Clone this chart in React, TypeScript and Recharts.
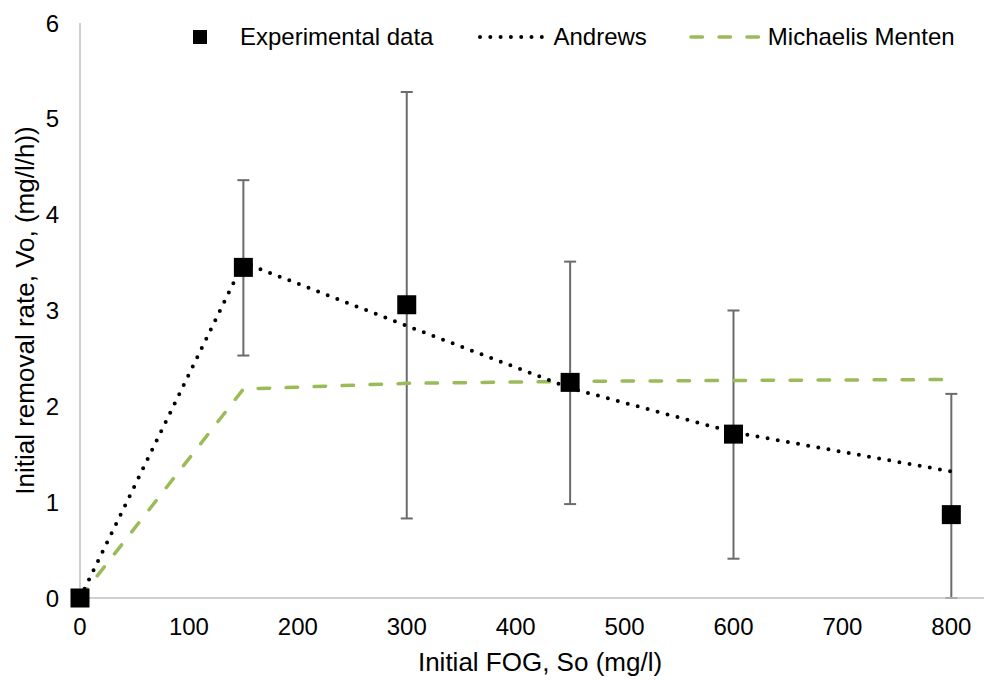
import React from 'react';
import { ComposedChart, Line, Scatter, XAxis, YAxis, ErrorBar } from 'recharts';

// Initial FOG concentration, So (mg/l)
const concentrations = [0, 150, 300, 450, 600, 800];
// Measured initial removal rate, Vo (mg/l/h)
const measuredRate = [0, 3.45, 3.06, 2.25, 1.71, 0.87];
// Error bar extents below / above each measured value
const errorBelow = [0, 0.92, 2.23, 1.27, 1.3, 0.87];
const errorAbove = [0, 0.91, 2.22, 1.26, 1.29, 1.26];
// Fitted kinetic models
const andrewsFit = [0, 3.5, 2.84, 2.19, 1.73, 1.32];
const michaelisMentenFit = [0, 2.18, 2.24, 2.26, 2.27, 2.28];

const xTicks = [0, 100, 200, 300, 400, 500, 600, 700, 800];
const yTicks = [0, 1, 2, 3, 4, 5, 6];

const rows = concentrations.map((x, i) => ({
  x,
  measured: measuredRate[i],
  err: [errorBelow[i], errorAbove[i]],
  andrews: andrewsFit[i],
  mm: michaelisMentenFit[i],
}));

const FONT = '"Liberation Sans", Arial, sans-serif';
const GREEN = '#9bbb59';
const AXIS = '#bfbfbf';

const SquareMarker = (props: any) => {
  const { cx, cy } = props;
  if (cx == null || cy == null) return <g />;
  return <rect x={cx - 9.5} y={cy - 9.5} width={19} height={19} fill="#000" />;
};

const NoMarker = () => <g />;

const XTitle = (props: any) => {
  const vb = props.viewBox;
  return (
    <text
      x={vb.x + vb.width / 2 + 8}
      y={vb.y + 64}
      textAnchor="middle"
      dominantBaseline="central"
      fontSize={26}
      fontFamily={FONT}
      fill="#000"
    >
      Initial FOG, So (mg/l)
    </text>
  );
};

const YTitle = (props: any) => {
  const vb = props.viewBox;
  const cx = vb.x + 25;
  const cy = vb.y + vb.height / 2;
  return (
    <text
      x={cx}
      y={cy}
      transform={`rotate(-90, ${cx}, ${cy})`}
      textAnchor="middle"
      dominantBaseline="central"
      fontSize={26}
      fontFamily={FONT}
      fill="#000"
    >
      Initial removal rate,  Vo, (mg/l/h))
    </text>
  );
};

const legendText: React.CSSProperties = {
  fontSize: 24,
  fontFamily: FONT,
  color: '#000',
  whiteSpace: 'pre',
  lineHeight: '28px',
};

const ChartLegend = () => (
  <div
    style={{
      position: 'absolute',
      left: 193,
      top: 23,
      display: 'flex',
      alignItems: 'center',
      height: 28,
    }}
  >
    <svg width={14} height={14} style={{ display: 'block' }}>
      <rect x={0} y={0} width={14} height={14} fill="#000" />
    </svg>
    <span style={{ ...legendText, marginLeft: 33 }}>Experimental data</span>
    <svg width={72} height={10} style={{ display: 'block', marginLeft: 45 }}>
      <line x1={2} y1={5} x2={70} y2={5} stroke="#000" strokeWidth={4} strokeDasharray="0 10.3" strokeLinecap="round" />
    </svg>
    <span style={{ ...legendText, marginLeft: 3 }}>Andrews</span>
    <svg width={76} height={10} style={{ display: 'block', marginLeft: 42 }}>
      <line x1={2} y1={5} x2={74} y2={5} stroke={GREEN} strokeWidth={3.5} strokeDasharray="11.5 16.5" strokeLinecap="round" />
    </svg>
    <span style={{ ...legendText, marginLeft: 3 }}>Michaelis Menten</span>
  </div>
);

export default function App() {
  return (
    <div style={{ position: 'relative', width: 984, height: 680, background: '#fff' }}>
      <style>{`body{margin:0;}`}</style>
      <ComposedChart
        width={984}
        height={680}
        data={rows}
        margin={{ top: 23, right: 0, bottom: 0, left: 0 }}
      >
        <XAxis
          dataKey="x"
          type="number"
          domain={[0, 830]}
          ticks={xTicks}
          interval={0}
          height={82}
          tickLine={false}
          tickSize={0}
          tickMargin={20}
          axisLine={{ stroke: AXIS, strokeWidth: 1.5 }}
          tick={{ fontSize: 24, fill: '#000', fontFamily: FONT }}
          label={<XTitle />}
        />
        <YAxis
          type="number"
          domain={[0, 6]}
          ticks={yTicks}
          interval={0}
          width={80}
          tickLine={false}
          tickSize={0}
          tickMargin={21}
          axisLine={{ stroke: AXIS, strokeWidth: 1.5 }}
          tick={{ fontSize: 24, fill: '#000', fontFamily: FONT }}
          label={<YTitle />}
        />
        <Scatter dataKey="measured" shape={<NoMarker />} isAnimationActive={false}>
          <ErrorBar dataKey="err" direction="y" width={6} stroke="#6b6b6b" strokeWidth={2} />
        </Scatter>
        <Line
          type="linear"
          dataKey="mm"
          stroke={GREEN}
          strokeWidth={3.5}
          strokeDasharray="11.5 16.5"
          strokeLinecap="round"
          dot={false}
          activeDot={false}
          isAnimationActive={false}
        />
        <Line
          type="linear"
          dataKey="andrews"
          stroke="#000"
          strokeWidth={4}
          strokeDasharray="0 10.3"
          strokeLinecap="round"
          dot={false}
          activeDot={false}
          isAnimationActive={false}
        />
        <Scatter dataKey="measured" shape={<SquareMarker />} isAnimationActive={false} />
      </ComposedChart>
      <ChartLegend />
    </div>
  );
}
